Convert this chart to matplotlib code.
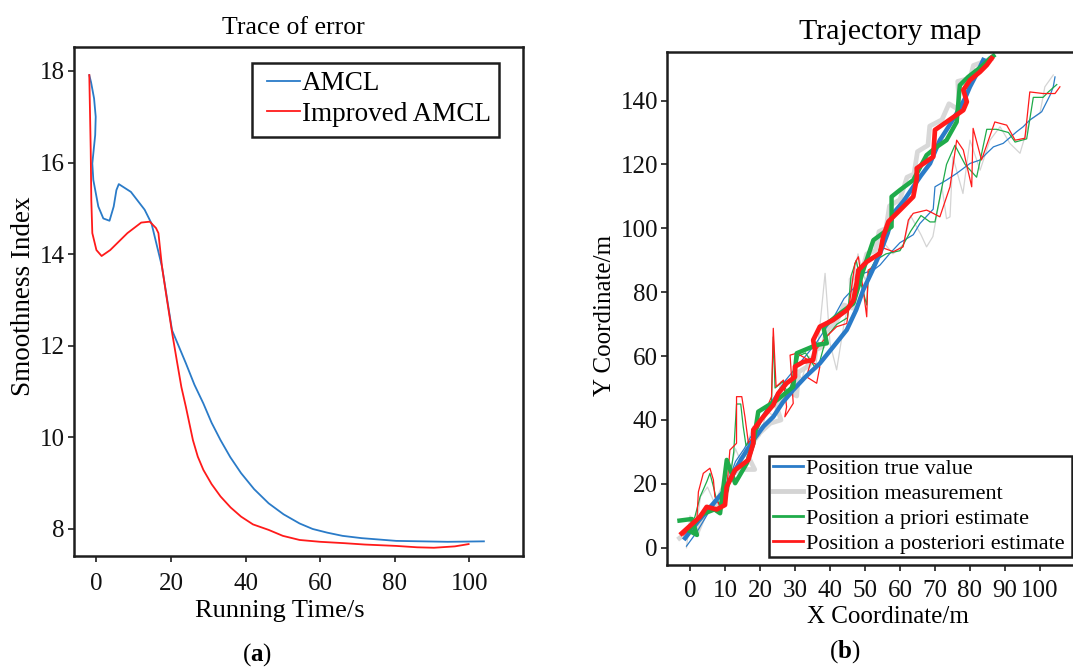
import matplotlib
matplotlib.use("Agg")
import matplotlib.pyplot as plt
from matplotlib.lines import Line2D
from matplotlib.patches import Rectangle

plt.rcParams["font.family"] = ["Liberation Serif", "DejaVu Serif"]
plt.rcParams["mathtext.fontset"] = "custom"
plt.rcParams["mathtext.rm"] = "Liberation Serif"
plt.rcParams["mathtext.bf"] = "Liberation Serif:bold"

# ---- (a) smoothness index over time ----
amcl_t = [-1.88, -1.4, -0.6, -0.16, -0.3, -0.8, -1.07, -0.8, 0.54, 1.88, 3.54, 4.66, 5.39,
          6.03, 9.27, 12.96, 14.8, 17.6, 20.3, 24.0, 26.3, 28.7, 30.9, 33.3, 35.9, 38.8,
          42.3, 46.2, 50.2, 54.5, 58.0, 61.9, 66.0, 71.1, 80.4, 94.2, 103.9]
amcl_v = [17.91, 17.75, 17.4, 17.0, 16.6, 16.2, 15.98, 15.62, 15.04, 14.78, 14.73, 15.04, 15.40,
          15.53, 15.36, 14.97, 14.67, 13.73, 12.34, 11.62, 11.15, 10.74, 10.32, 9.94, 9.57, 9.22,
          8.87, 8.56, 8.32, 8.12, 8.0, 7.92, 7.85, 7.80, 7.74, 7.72, 7.73]

imp_t = [-1.88, -1.5, -1.34, -1.07, 0.03, 1.42, 3.73, 8.34, 12.04, 14.34, 16.0, 16.65, 17.6,
         18.95, 20.35, 21.7, 22.8, 24.0, 25.9, 27.2, 28.7, 30.9, 33.3, 36.0, 38.8, 42.0, 46.2,
         50.0, 54.5, 60.0, 66.5, 72.0, 80.4, 86.0, 90.5, 96.1, 99.8]
imp_v = [17.91, 16.28, 15.18, 14.46, 14.09, 13.96, 14.09, 14.46, 14.69, 14.71, 14.57, 14.46, 13.73,
         13.0, 12.27, 11.62, 11.1, 10.67, 9.94, 9.58, 9.29, 8.98, 8.71, 8.47, 8.27, 8.10, 7.98,
         7.85, 7.76, 7.72, 7.69, 7.66, 7.63, 7.60, 7.59, 7.62, 7.67]

# ---- (b) trajectory map: two runs, each with four traces ----
true1_x = [-1.4, 2.5, 6.7, 9.5, 11.4, 14.5, 18.1, 21.0, 23.8, 26.5, 29.5, 33.0, 37.1, 41.0, 44.8,
           47.5, 49.5, 52.0, 54.3, 56.5, 58.1, 61.0, 63.8, 66.0, 68.6, 70.0, 71.4, 74.0, 76.2,
           78.5, 80.0, 82.0, 83.8]
true1_y = [3.0, 8.5, 13.9, 17.5, 21.2, 27.5, 33.7, 38.0, 41.0, 45.5, 49.4, 53.5, 57.7, 63.0, 68.2,
           74.5, 80.7, 86.5, 92.2, 98.5, 104.7, 108.5, 113.0, 116.5, 120.3, 124.0, 127.6, 132.0,
           136.0, 140.5, 144.3, 148.5, 152.7]

meas1_x = [-3.0, 0.0, 2.0, 4.0, 6.0, 9.0, 11.0, 14.0, 18.5, 16.0, 20.0, 23.0, 26.0, 24.5, 28.0,
           30.5, 31.0, 34.0, 36.0, 38.0, 39.0, 42.0, 44.0, 46.5, 46.0, 49.0, 50.5, 53.0, 54.0,
           56.0, 57.0, 60.0, 62.0, 64.0, 65.0, 68.0, 68.5, 72.0, 74.0, 77.0, 76.5, 80.0, 81.0,
           86.0]
meas1_y = [3.0, 5.5, 4.5, 10.0, 13.0, 14.0, 22.0, 24.5, 24.5, 30.0, 36.0, 39.0, 40.0, 45.0, 49.0,
           47.5, 55.0, 57.0, 62.0, 63.0, 68.0, 71.0, 76.0, 75.0, 84.0, 86.0, 92.0, 93.0, 99.0,
           100.0, 107.0, 109.0, 116.0, 117.0, 124.0, 126.0, 132.0, 134.0, 139.0, 137.0, 146.0,
           147.0, 151.0, 153.0]

prior1_x = [-3.0, 0.5, 2.0, -0.5, 3.5, 7.0, 8.6, 10.5, 12.9, 16.2, 18.1, 19.5, 24.8, 29.5, 30.5,
            36.2, 39.1, 38.1, 42.9, 46.7, 49.5, 52.4, 57.6, 57.6, 60.0, 63.8, 67.6, 70.5, 73.3,
            76.2, 77.1, 79.5, 83.8, 85.7, 86.7]
prior1_y = [8.5, 9.0, 4.0, 5.5, 10.5, 12.0, 10.8, 27.5, 20.2, 26.4, 32.7, 42.6, 46.2, 50.4, 60.9,
            63.5, 64.0, 69.2, 73.4, 76.5, 86.9, 96.3, 100.5, 109.9, 112.0, 115.1, 122.9, 125.5,
            127.6, 133.3, 144.8, 147.4, 151.1, 153.2, 154.0]

post1_x = [-2.37, 2.86, 4.77, 7.63, 10.0, 10.49, 12.86, 16.66, 18.09, 18.09, 20.94, 23.8, 25.2,
           27.6, 30.0, 30.0, 32.4, 35.2, 35.7, 35.2, 37.1, 40.9, 44.8, 46.7, 47.6, 48.1, 50.5,
           54.3, 55.2, 56.7, 60.0, 63.8, 64.8, 64.8, 69.5, 70.0, 73.3, 78.1, 79.1, 78.1, 80.0,
           82.9, 84.8, 86.2]
post1_y = [4.5, 9.7, 12.8, 12.0, 13.4, 19.1, 24.3, 27.5, 32.7, 36.9, 41.0, 44.7, 48.3, 51.5, 53.5,
           56.7, 58.2, 58.8, 61.9, 65.0, 69.2, 71.3, 74.4, 77.5, 82.8, 86.9, 89.5, 92.2, 97.4,
           102.1, 105.7, 109.9, 115.6, 118.8, 122.4, 130.8, 133.3, 137.0, 139.6, 143.3, 146.4,
           149.0, 151.1, 153.2]

true2_x = [-1.0, 2.0, 5.0, 8.0, 11.0, 13.0, 15.5, 18.0, 21.0, 24.0, 27.0, 30.0, 33.0, 36.0, 39.0,
           41.5, 44.0, 47.0, 49.5, 52.4, 54.3, 57.0, 60.0, 63.8, 65.7, 69.5, 70.0, 73.3, 76.2,
           80.0, 82.9, 84.8, 86.7, 89.5, 93.3, 95.2, 97.1, 100.5, 102.9, 103.8, 104.3]
true2_y = [0.5, 5.0, 10.5, 15.0, 21.0, 27.0, 31.0, 36.0, 42.0, 47.0, 52.0, 56.0, 60.0, 64.0, 69.0,
           73.0, 78.0, 81.5, 85.9, 86.9, 88.5, 92.0, 95.5, 98.0, 101.5, 106.0, 113.0, 115.1,
           117.2, 120.3, 121.4, 123.5, 125.5, 126.6, 130.2, 131.8, 133.9, 136.5, 141.7, 144.3,
           147.4]

meas2_x = [-1.0, 0.0, 1.5, 3.0, 5.0, 7.0, 9.0, 11.0, 13.0, 14.5, 16.5, 18.0, 20.0, 22.0, 24.0,
           26.0, 28.0, 30.0, 32.0, 34.0, 36.0, 38.6, 40.0, 41.9, 44.0, 46.0, 48.0, 50.0, 53.0,
           55.0, 58.0, 61.0, 63.0, 66.0, 67.6, 69.4, 72.0, 73.3, 74.3, 75.1, 78.0, 80.0, 82.9,
           85.7, 88.6, 91.4, 94.3, 97.1, 100.0, 101.4, 103.8]
meas2_y = [0.0, 10.0, 4.0, 16.0, 19.0, 14.0, 19.0, 22.0, 31.0, 27.0, 33.0, 38.0, 35.0, 43.0, 41.0,
           52.0, 47.0, 55.0, 53.0, 60.0, 57.0, 85.9, 64.0, 55.7, 70.0, 80.0, 92.0, 84.0, 90.0,
           96.0, 92.0, 95.0, 104.0, 98.0, 94.2, 97.4, 113.0, 103.0, 103.6, 122.4, 110.9, 127.6,
           118.2, 127.6, 131.8, 126.6, 123.5, 133.9, 136.0, 144.3, 148.0]

prior2_x = [-0.9, 1.4, 2.9, 4.8, 5.7, 6.7, 7.6, 9.0, 11.0, 12.5, 13.3, 14.5, 15.2, 16.0, 18.5,
            21.0, 23.3, 23.8, 24.3, 26.5, 28.0, 30.0, 31.0, 33.0, 36.0, 37.0, 39.0, 42.0, 45.0,
            46.0, 47.5, 49.0, 50.5, 51.0, 53.0, 56.0, 60.0, 63.0, 66.0, 68.6, 70.0, 73.3, 75.7,
            78.6, 81.9, 84.8, 87.6, 91.0, 92.9, 96.2, 98.1, 100.9, 102.4, 104.8]
prior2_y = [5.3, 9.7, 16.0, 20.7, 23.3, 19.1, 15.0, 13.0, 18.0, 30.0, 45.0, 45.0, 38.0, 32.0, 35.0,
            41.0, 46.0, 66.0, 50.0, 52.0, 48.0, 55.0, 60.0, 61.0, 56.0, 58.0, 66.0, 70.0, 72.0,
            85.0, 90.0, 82.0, 76.0, 86.0, 90.0, 92.0, 93.0, 99.0, 104.0, 102.0, 102.0, 120.0,
            126.0, 120.0, 116.0, 131.0, 131.0, 130.0, 127.0, 128.0, 141.0, 141.0, 142.7, 145.0]

post2_x = [-1.9, 1.9, 2.4, 3.8, 5.7, 6.7, 7.1, 8.6, 10.5, 11.4, 13.3, 13.3, 14.8, 15.7, 16.7, 18.1,
           20.9, 23.3, 23.8, 24.6, 26.7, 27.6, 27.1, 29.5, 28.6, 30.5, 37.1, 36.2, 33.3, 35.2,
           39.0, 41.9, 44.8, 47.1, 48.1, 49.5, 50.5, 50.9, 52.4, 54.3, 58.1, 60.9, 62.4, 63.8,
           67.6, 68.6, 71.4, 74.3, 76.2, 78.1, 80.5, 80.9, 83.3, 87.1, 90.5, 92.9, 95.7, 97.1,
           100.9, 104.3, 105.7]
post2_y = [4.0, 7.6, 17.5, 23.3, 24.9, 21.2, 16.0, 12.9, 18.1, 30.6, 32.7, 47.3, 47.3, 41.0, 32.7,
           34.8, 41.0, 47.3, 68.7, 50.4, 52.5, 44.1, 41.0, 45.2, 60.3, 60.9, 56.7, 51.5, 53.5,
           60.9, 66.1, 69.2, 70.2, 89.0, 91.1, 80.7, 72.3, 86.9, 88.0, 94.2, 92.7, 94.2, 102.6,
           104.7, 105.7, 105.2, 103.6, 113.0, 127.6, 124.5, 113.0, 131.3, 121.4, 133.3, 132.3,
           127.6, 128.2, 142.7, 142.2, 142.2, 144.3]

legend_b = ["Position true value", "Position measurement",
            "Position a priori estimate", "Position a posteriori estimate"]

BLUE = "#2a7bc8"
RED = "#ff1a1a"
GREEN = "#1fab4a"
GRAY = "#d4d4d4"
SPINE = "#1e1e1e"

W, H = 1073, 667
fig = plt.figure(figsize=(W / 100, H / 100), dpi=100)


def px_box(left, top, right, bottom):
    return [left / W, 1 - bottom / H, (right - left) / W, (bottom - top) / H]


def px_pt(x, y):
    return (x / W, 1 - y / H)


def style_axes(ax, pad_x, pad_y):
    for s in ax.spines.values():
        s.set_linewidth(1.8)
        s.set_color(SPINE)
    ax.tick_params(direction="out", length=4.5, width=1.2, color=SPINE,
                   labelsize=18, labelcolor="#111111")
    ax.tick_params(axis="x", pad=pad_x)
    ax.tick_params(axis="y", pad=pad_y)


def frame_box(ax, left, top, right, bottom):
    # legend border drawn as a plain rectangle in figure pixels, under the legend text
    ax.add_patch(Rectangle(px_pt(left, bottom), (right - left) / W, (bottom - top) / H,
                           transform=fig.transFigure, facecolor="white", edgecolor=SPINE,
                           lw=1.8, zorder=5, clip_on=False))


# panel (a)
ax1 = fig.add_axes(px_box(74, 46.7, 522.7, 556))
ax1.plot(amcl_t, amcl_v, color=BLUE, lw=1.3, label="AMCL")
ax1.plot(imp_t, imp_v, color=RED, lw=1.3, label="Improved AMCL")
ax1.set_xlim(-5.98, 114.3)
ax1.set_ylim(7.41, 18.53)
ax1.set_xticks(range(0, 101, 20))
ax1.set_yticks(range(8, 19, 2))
style_axes(ax1, 7.5, 2)
leg1 = ax1.legend(loc="upper left", bbox_to_anchor=px_pt(267, 71), bbox_transform=fig.transFigure,
                  borderaxespad=0, borderpad=0, fontsize=19.5, handlelength=1.2,
                  handletextpad=0.1, labelspacing=0.22, frameon=False)
leg1.set_zorder(6)
frame_box(ax1, 252, 62.7, 499, 136.7)

fig.text(293 / W, 1 - 28 / H, "Trace of error", ha="center", va="center", fontsize=18.5)
fig.text(280 / W, 1 - 611 / H, "Running Time/s", ha="center", va="center", fontsize=19)
fig.text(24 / W, 1 - 296 / H, "Smoothness Index", ha="center", va="center",
         rotation=90, fontsize=19.5)
fig.text(257 / W, 1 - 655 / H, r"($\mathbf{a}$)", ha="center", va="center", fontsize=18)

# panel (b) -- axes run past the right edge of the figure
ax2 = fig.add_axes(px_box(667, 52, 1083, 565))
ax2.plot(meas1_x, meas1_y, color=GRAY, lw=3.4, alpha=0.9, solid_joinstyle="round")
ax2.plot(meas2_x, meas2_y, color=GRAY, lw=0.9)
ax2.plot(true2_x, true2_y, color=BLUE, lw=0.9)
ax2.plot(prior2_x, prior2_y, color=GREEN, lw=0.9)
ax2.plot(post2_x, post2_y, color=RED, lw=0.9)
ax2.plot(true1_x, true1_y, color=BLUE, lw=3.2)
ax2.plot(prior1_x, prior1_y, color=GREEN, lw=3.2)
ax2.plot(post1_x, post1_y, color=RED, lw=3.4)
ax2.set_xlim(-6.57, 112.3)
ax2.set_ylim(-5.4, 155.2)
ax2.set_xticks(range(0, 101, 10))
ax2.set_yticks(range(0, 141, 20))
style_axes(ax2, 6.5, 2)
ax2.spines["right"].set_visible(False)

handles = [Line2D([], [], color=BLUE, lw=2.0),
           Line2D([], [], color=GRAY, lw=3.5),
           Line2D([], [], color=GREEN, lw=2.0),
           Line2D([], [], color=RED, lw=2.0)]
leg2 = ax2.legend(handles, legend_b, loc="upper left", bbox_to_anchor=px_pt(773, 458.5),
                  bbox_transform=fig.transFigure, borderaxespad=0, borderpad=0, fontsize=16,
                  handlelength=1.35, handletextpad=0.12, labelspacing=0.2, frameon=False)
leg2.set_zorder(6)
frame_box(ax2, 769.3, 456, 1072, 556.7)

fig.text(890 / W, 1 - 32 / H, "Trajectory map", ha="center", va="center", fontsize=21.5)
fig.text(888 / W, 1 - 617 / H, "X Coordinate/m", ha="center", va="center", fontsize=18)
fig.text(605 / W, 1 - 315 / H, "Y Coordinate/m", ha="center", va="center",
         rotation=90, fontsize=18)
fig.text(845 / W, 1 - 652 / H, r"($\mathbf{b}$)", ha="center", va="center", fontsize=18)

fig.savefig("out.png", dpi=100)
